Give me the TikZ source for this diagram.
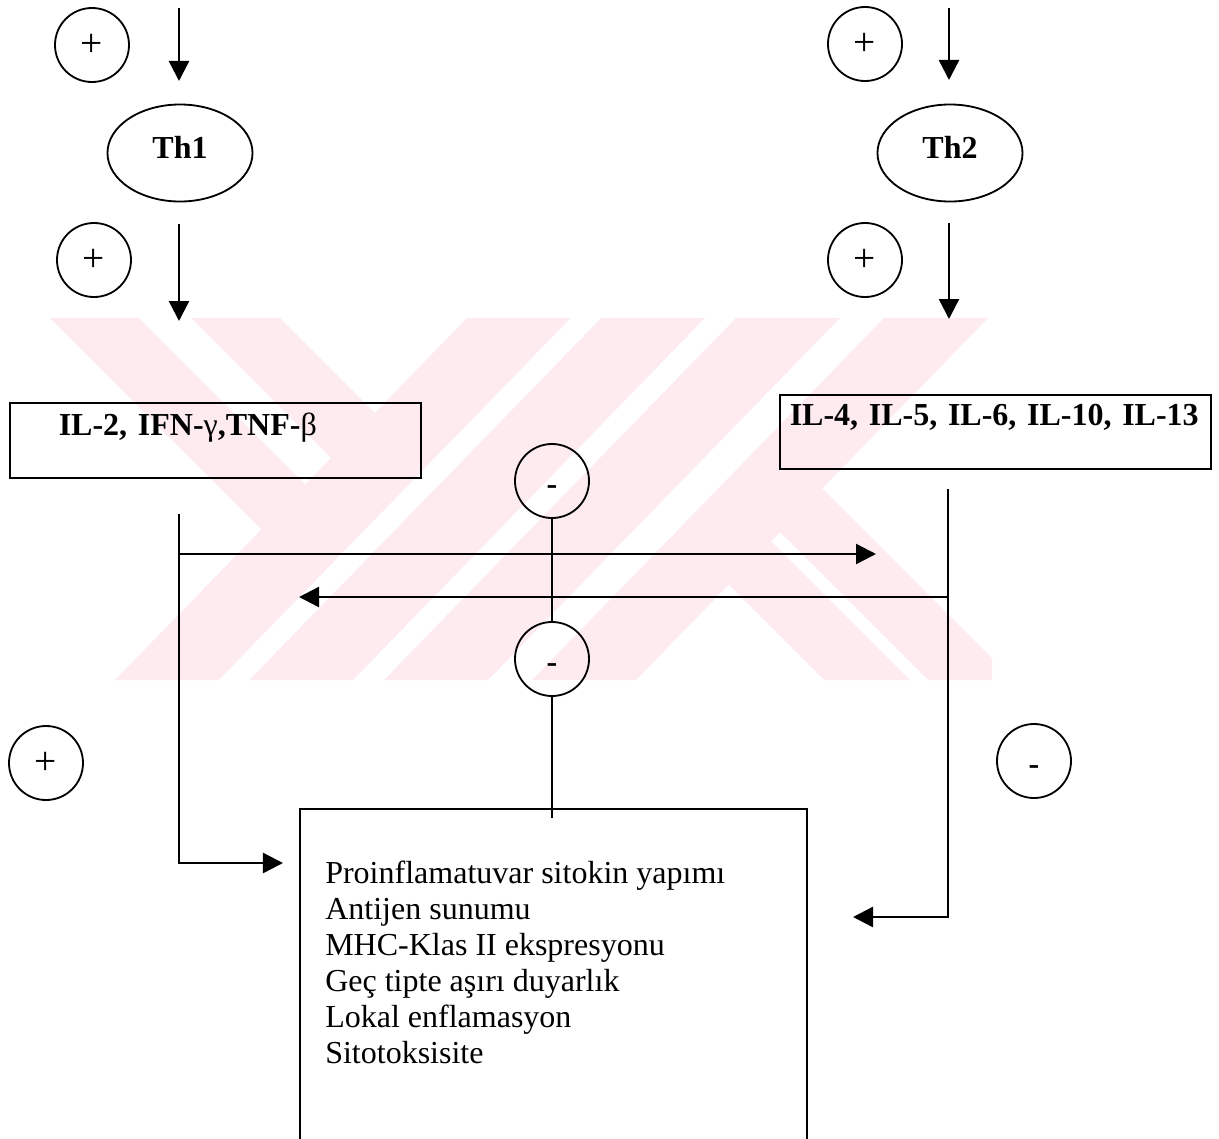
\documentclass[tikz,border=0pt]{standalone}
\usepackage{fontspec}
\setmainfont{Liberation Serif}
\usetikzlibrary{arrows.meta,positioning,shapes.geometric}
\definecolor{wmark}{RGB}{253,235,239}
\newcommand{\bigsize}{\fontsize{22.76pt}{25.6pt}\selectfont}

\begin{document}
\begin{tikzpicture}[x=0.025cm, y=-0.025cm,
    every node/.style={font=\bigsize},
    sign/.style={draw, circle, line width=1.3pt, minimum size=1.85cm, inner sep=0pt, font=\fontsize{28pt}{30pt}\selectfont},
    minus/.style={sign, font=\bigsize\bfseries, text height=19pt, text depth=0pt},
    cell/.style={draw, ellipse, line width=1.3pt, minimum width=3.625cm, minimum height=2.425cm, inner sep=0pt, text depth=8pt, font=\bigsize\bfseries},
    cyto/.style={draw, rectangle, line width=1.1pt, anchor=north west, align=left, inner ysep=0pt, font=\bigsize\bfseries},
    effbox/.style={draw, rectangle, line width=1.1pt, anchor=north west, minimum width=12.675cm, minimum height=10cm},
    arr/.style={-{Triangle[length=5mm,width=5mm]}, line width=1.7pt},
    link/.style={line width=1.7pt},
    wm/.style={fill=wmark, draw=none},
]
    \path[use as bounding box] (0,0) rectangle (1219,1139);
    \clip (0,0) rectangle (1219,1139);

    \begin{scope}
        \clip (40,318) rectangle (992,680);
        \fill[wm] (467,318) -- (571,318) -- (219,680) -- (115,680) -- cycle;
        \fill[wm] (601,318) -- (705,318) -- (353,680) -- (249,680) -- cycle;
        \fill[wm] (736,318) -- (840,318) -- (488,680) -- (384,680) -- cycle;
        \fill[wm] (884,318) -- (988,318) -- (636,680) -- (532,680) -- cycle;
        \fill[wm] (50,318) -- (139,318) -- (354,533) -- (265,533) -- cycle;
        \fill[wm] (191,318) -- (280,318) -- (492,530) -- (403,530) -- cycle;
        \fill[white] (571,318) -- (601,318) -- (249,680) -- (219,680) -- cycle;
        \fill[wm] (824,680) -- (910,680) -- (767,537) -- (681,537) -- cycle;
        \fill[wm] (928,680) -- (1014,680) -- (818,484) -- (732,484) -- cycle;
    \end{scope}

    \node[sign]  (pa1) at (92,45)   {+};
    \node[sign]  (pa2) at (94,260)  {+};
    \node[sign]  (pb1) at (865,44)  {+};
    \node[sign]  (pb2) at (865,260) {+};
    \node[sign]  (pl)  at (46,763)  {+};
    \node[minus] (nr)  at (1034,761) {-};
    \node[minus] (nm1) at (552,481) {-};
    \node[minus] (nm2) at (552,659) {-};

    \node[cell] (th1) at (180,153) {Th1};
    \node[cell] (th2) at (950,153) {Th2};

    \node[cyto, inner xsep=1.225cm, text width=7.825cm, text height=0.825cm, text depth=1.05cm] (cyt1) at (9,402) {IL-2, IFN-{\mdseries γ},TNF-{\mdseries β}};
    \node[cyto, inner xsep=0.25cm, text width=10.275cm, text height=0.775cm, text depth=1.075cm] (cyt2) at (779,394) {IL-4, IL-5, IL-6, IL-10, IL-13};

    \node[effbox] (eff) at (299,808) {};
    \node[anchor=north west, align=left, inner sep=0pt] (efftxt) at (325,861) {Proinflamatuvar sitokin yapımı\\Antijen sunumu\\MHC-Klas II ekspresyonu\\Geç tipte aşırı duyarlık\\Lokal enflamasyon\\Sitotoksisite};

    \coordinate (a1s) at (179,8);
    \coordinate (a1e) at (179,81);
    \coordinate (a2s) at (179,224);
    \coordinate (a2e) at (179,321);
    \coordinate (a3s) at (949,8);
    \coordinate (a3e) at (949,80);
    \coordinate (a4s) at (949,223);
    \coordinate (a4e) at (949,319);
    \coordinate (lt)  at (179,514);
    \coordinate (lj)  at (179,554);
    \coordinate (lb)  at (179,863);
    \coordinate (ltip) at (283,863);
    \coordinate (rhead) at (876,554);
    \coordinate (rt)  at (948,489);
    \coordinate (rj)  at (948,597);
    \coordinate (rb)  at (948,917);
    \coordinate (rtip) at (853,917);
    \coordinate (lhead) at (299,597);
    \coordinate (mend) at (552,818);

    \draw[arr] (a1s) -- (a1e);
    \draw[arr] (a2s) -- (a2e);
    \draw[arr] (a3s) -- (a3e);
    \draw[arr] (a4s) -- (a4e);
    \draw[arr] (lt) -- (lb) -- (ltip);
    \draw[arr] (rt) -- (rb) -- (rtip);
    \draw[arr] (lj) -- (rhead);
    \draw[arr] (rj) -- (lhead);
    \draw[link] (nm1) -- (nm2);
    \draw[link] (nm2) -- (mend);
\end{tikzpicture}
\end{document}
